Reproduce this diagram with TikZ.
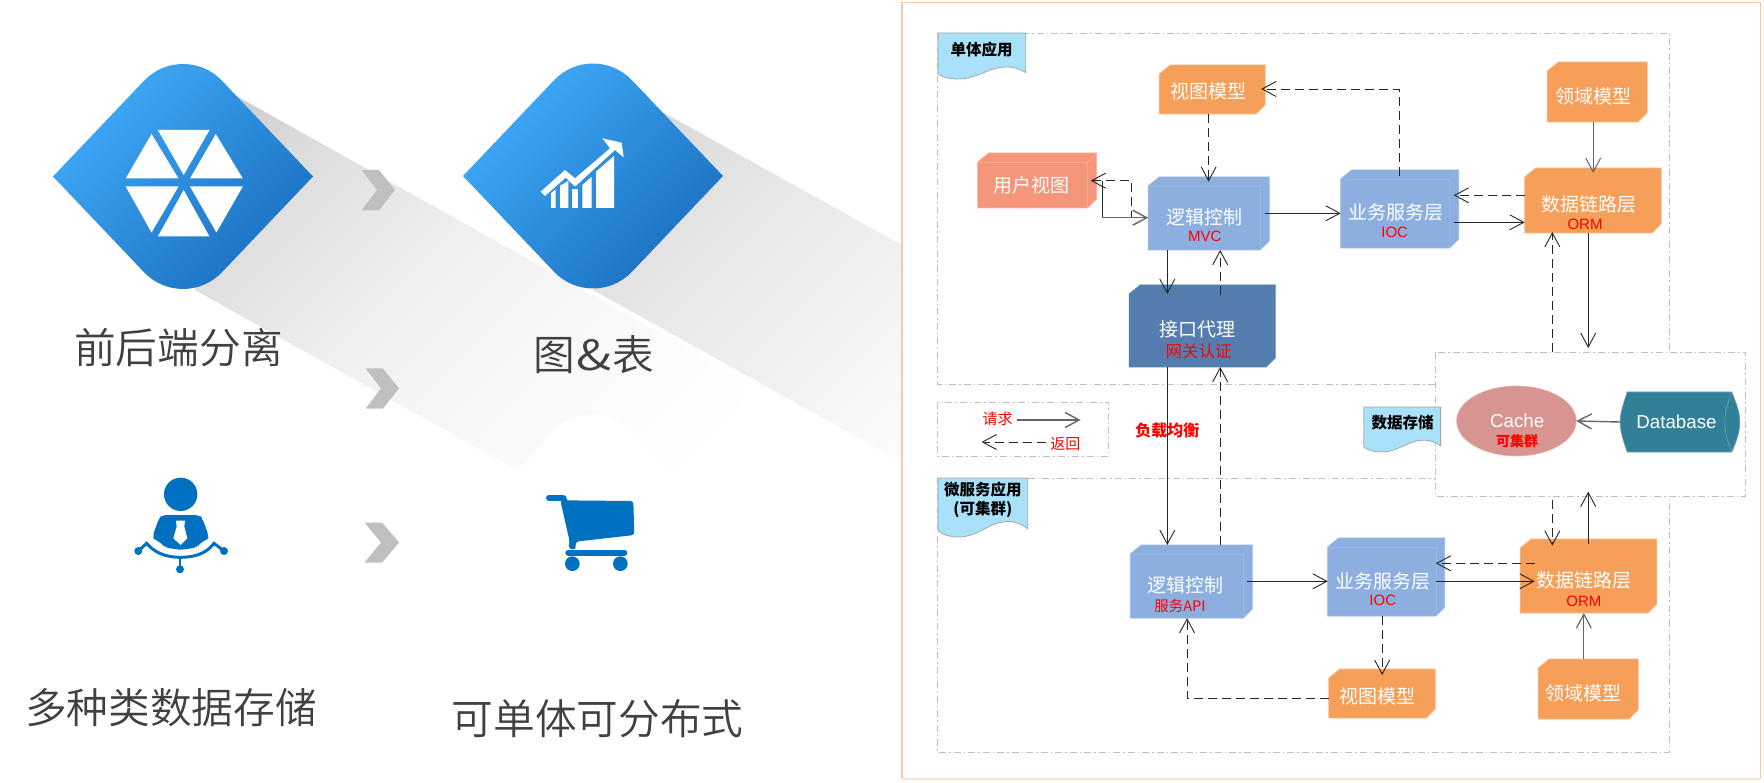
\documentclass[tikz,border=0pt]{standalone}
\usepackage{fontspec}
\usepackage{graphicx}
\setmainfont{Noto Sans CJK SC}
\newfontfamily\latinf{Liberation Sans}
\newfontfamily\lightcjk{Noto Sans CJK SC DemiLight}
\usetikzlibrary{shapes.geometric,arrows.meta,calc}
\definecolor{cOrange}{HTML}{F69F58}
\definecolor{cBlue}{HTML}{8CAFE0}
\definecolor{cBlueLn}{HTML}{98B8E4}
\definecolor{cDark}{HTML}{567DB0}
\definecolor{cTeal}{HTML}{3F8A99}
\definecolor{cSalmon}{HTML}{F59579}
\definecolor{cCache}{HTML}{D79491}
\definecolor{cDb}{HTML}{318097}
\definecolor{cDoc}{HTML}{A9E1FA}
\definecolor{cIcon}{HTML}{0070C0}
\definecolor{cDiaA}{HTML}{3FABFA}
\definecolor{cDiaB}{HTML}{1B6FBF}
\definecolor{cFrame}{HTML}{FFC89C}
\definecolor{cFrameB}{HTML}{FDE3D0}
\definecolor{gA}{gray}{.975}
\definecolor{gB}{gray}{.94}
\definecolor{gC}{gray}{.87}
\definecolor{gD}{gray}{.80}
\definecolor{gE}{gray}{.78}
\definecolor{gF}{gray}{.98}
\definecolor{gG}{gray}{.95}
\definecolor{gH}{gray}{.91}
\definecolor{gI}{gray}{.85}
\pgfdeclareverticalshading{shadowA}{100bp}{color(0bp)=(white); color(25bp)=(white); color(42bp)=(gA); color(57bp)=(gB); color(73bp)=(gC); color(83bp)=(gD); color(100bp)=(gE)}
\pgfdeclareverticalshading{shadowB}{100bp}{color(0bp)=(white); color(20bp)=(gF); color(34bp)=(gG); color(56bp)=(gH); color(78bp)=(gI); color(100bp)=(gI)}
\tikzset{
  x=1pt,y=-1pt,
  >={Straight Barb[length=14pt,width=15pt]},
  anchorbox/.style={rectangle,inner sep=0pt,outer sep=0pt},
  orangebox/.style={fill=cOrange,draw=cOrange!70!white,line width=.7pt},
  bluebox/.style={fill=cBlue,draw=cBlueLn,line width=.7pt},
  salmonbox/.style={fill=cSalmon,draw=cSalmon!70!white,line width=.7pt},
  darkbox/.style={fill=cDark,draw=cTeal,line width=.7pt},
  wtext/.style={text=white,font=\fontsize{19}{20}\selectfont,inner sep=0pt},
  rtext/.style={text=red,font=\latinf\fontsize{15}{16}\selectfont,inner sep=0pt},
  rcjk/.style={text=red,font=\fontsize{14.5}{16}\selectfont,inner sep=0pt},
  btext/.style={text=black,font=\bfseries\fontsize{15.5}{19}\selectfont,inner sep=0pt,align=center},
  bigtext/.style={text=black!75,font=\lightcjk\fontsize{41.7}{44}\selectfont,inner sep=0pt},
  solidl/.style={draw=black!85,line width=.9pt},
  dashl/.style={draw=black!85,line width=.9pt,dash pattern=on 9pt off 5pt},
  grayl/.style={draw=black!60,line width=1.4pt},
  groupbox/.style={draw=black!25,line width=.8pt,dash pattern=on 7pt off 3pt on 1.5pt off 3pt},
  docpath/.style={fill=cDoc,draw=black!35,line width=.8pt},
  chev/.style={fill=black!25}
}
\newcommand{\cube}[6]{%
  \node[anchorbox,minimum width=#5pt,minimum height=#6pt] (#2) at (#3,#4) {};
  \path[#1] ([xshift=11pt]#2.north west) -- (#2.north east) -- ([yshift=9pt]#2.south east) -- ([xshift=-9pt]#2.south east) -- (#2.south west) -- ([yshift=-9pt]#2.north west) -- cycle;}
\newcommand{\cubelines}[2]{%
  \draw[#2,line width=.5pt] ([yshift=-9pt]#1.north west) -- ([shift={(-9pt,-9pt)}]#1.north east) -- ([xshift=-9pt]#1.south east);
  \draw[#2,line width=.5pt] ([shift={(-9pt,-9pt)}]#1.north east) -- (#1.north east);}
\newcommand{\diamondpath}{(-130,0) -- (-39.1,-95.6) .. controls (-17.9,-118.1) and (17.9,-118.1) .. (39.1,-95.6) -- (130,0) -- (39.1,95.6) .. controls (17.9,118.1) and (-17.9,118.1) .. (-39.1,95.6) -- cycle}
\newcommand{\bluediamond}[2]{%
  \shade[top color=cDiaA,bottom color=cDiaB,shading angle=45,shift={(#1,#2)}] \diamondpath;}
\newcommand{\docshape}[4]{%
  \path[docpath,shift={(#1,#2)},xscale=#3,yscale=#4]
   (0,0) -- (1,0) -- (1,.86) .. controls (.88,.72) and (.76,.70) .. (.6,.80) .. controls (.45,.92) and (.35,1.0) .. (.23,1.0) .. controls (.14,1.0) and (.06,.97) .. (0,.89) -- cycle;}
\begin{document}
\begin{tikzpicture}
\useasboundingbox (0,0) rectangle (1764,783);
\fill[white] (0,0) rectangle (1764,783);
% long shadows
\shade[shading=shadowA,shading angle=45]
  (224,89) -- (744,380) -- (715,581) -- (195,290) -- cycle;
\shade[shading=shadowB,shading angle=45]
  (657,109) -- (902,245) -- (902,462) -- (593,290) -- cycle;
\fill[white,shift={(593,527)}] \diamondpath;
% chevrons
\fill[chev] (361.6,170) -- (379,170) -- (395,190) -- (379,210.5) -- (361.6,210.5) -- (377,190) -- cycle;
\fill[chev] (365.7,368.5) -- (383,368.5) -- (399,388.5) -- (383,408.5) -- (365.7,408.5) -- (381,388.5) -- cycle;
\fill[chev] (364.5,522.5) -- (382,522.5) -- (399,542.5) -- (382,562.5) -- (364.5,562.5) -- (381,542.5) -- cycle;
% diamonds
\bluediamond{183}{176.5}
\bluediamond{593}{176}
% hexagon icon
\begin{scope}[xscale=.574,yscale=.5]
\fill[white] (275,260) -- (365,260) -- (320,350) -- cycle;
\fill[white] (264,268) -- (219,357) -- (311,357) -- cycle;
\fill[white] (376,268) -- (423,357) -- (331,357) -- cycle;
\fill[white] (219,373) -- (311,373) -- (264,465) -- cycle;
\fill[white] (331,373) -- (423,373) -- (377,465) -- cycle;
\fill[white] (320,380) -- (365,473) -- (275,473) -- cycle;
\end{scope}
% chart icon
\begin{scope}[shift={(530,130)},scale=.33333]
\fill[white] (32,185) -- (105,120) -- (135,145) -- (240,55) -- (217,25) -- (275,38) -- (281,82) -- (255,60) -- (135,170) -- (107,143) -- (45,198) -- cycle;
\fill[white] (63,190) -- (77,178) -- (77,234) -- (63,234) -- cycle;
\fill[white] (90,167) -- (115,153) -- (115,234) -- (90,234) -- cycle;
\fill[white] (127,178) -- (145,178) -- (145,234) -- (127,234) -- cycle;
\fill[white] (157,165) -- (185,140) -- (185,234) -- (157,234) -- cycle;
\fill[white] (198,125) -- (252,78) -- (252,234) -- (198,234) -- cycle;
\end{scope}
% person icon
\begin{scope}[shift={(125,470)},scale=.33333]
\fill[cIcon] (167,73) circle [radius=50];
\fill[cIcon,rounded corners=4pt] (112,135) -- (222,135) -- (232,145) -- (252,200) -- (245,210) -- (222,220) -- (218,232) -- (167,240) -- (118,232) -- (112,220) -- (90,210) -- (82,200) -- (102,145) -- cycle;
\fill[white] (153,152) -- (180,152) -- (178,170) -- (187,205) -- (167,225) -- (145,205) -- (155,170) -- cycle;
\draw[cIcon,line width=3pt] (40,243) -- (65,220) .. controls (90,250) and (125,262) .. (167,262) .. controls (209,262) and (245,250) .. (267,220) -- (297,243);
\draw[cIcon,line width=2.6pt] (165,262) -- (165,298);
\fill[cIcon] (40,243) circle [radius=12];
\fill[cIcon] (297,243) circle [radius=12];
\fill[cIcon] (165,298) circle [radius=12];
\end{scope}
% cart icon
\begin{scope}[shift={(535,485)},scale=.33333]
\draw[cIcon,line width=6pt,line cap=round] (42,38) -- (82,38);
\fill[cIcon,rounded corners=3pt] (76,46) -- (295,48) -- (298,150) -- (122,170) -- (122,195) -- (100,190) -- (104,170) -- cycle;
\fill[cIcon] (72,32) -- (92,32) -- (98,50) -- (78,50) -- cycle;
\draw[cIcon,line width=6pt,line cap=round] (100,203) -- (268,203);
\fill[cIcon] (112,236) circle [radius=22];
\fill[cIcon] (256,236) circle [radius=22];
\end{scope}
% big labels
\node[bigtext] (t1) at (178.5,347.5) {前后端分离};
\node[bigtext] (t2) at (594,355) {图\hspace{1.5pt}\scalebox{1.25}[1]{\&}\hspace{1.5pt}表};
\node[bigtext] (t3) at (171,707.5) {多种类数据存储};
\node[bigtext] (t4) at (597.6,718.5) {可单体可分布式};
% right panel
\begin{scope}[shift={(2.34,0)},xscale=.9974]
% frame
\fill[white] (902,2.7) rectangle (1763,779);
\draw[draw=cFrame,line width=1.2pt] (902,779) -- (902,2.7) -- (1763,2.7) -- (1763,779);
\draw[draw=cFrameB,line width=2pt] (902,779) -- (1763,779);
% groups
\draw[groupbox] (937.6,33) rectangle (1671,384);
\draw[groupbox] (937.6,478) rectangle (1671,752);
\draw[groupbox] (937.6,402) rectangle (1109,456);
\draw[groupbox,fill=white] (1437,352) rectangle (1748,496);
\docshape{938}{33}{88}{46}
\docshape{938}{478}{90}{59}
\docshape{1365}{407}{77}{45}
% boxes
\cube{orangebox}{vm1}{1213}{89.5}{106}{49}
\cube{orangebox}{dm1}{1599}{92}{100}{60}
\cube{salmonbox}{uv}{1037.5}{180.5}{119}{55}
\cube{bluebox}{lc1}{1209.5}{213.5}{121}{73}
\cube{bluebox}{bs1}{1401}{209}{118}{78}
\cube{orangebox}{dl1}{1594.75}{200.5}{136.5}{65}
\cube{darkbox}{gw}{1203}{326}{146}{82}
\cube{bluebox}{lc2}{1192}{581.5}{122}{73}
\cube{bluebox}{bs2}{1387.5}{577}{117}{78}
\cube{orangebox}{dl2}{1590.3}{576}{136.6}{74}
\cube{orangebox}{vm2}{1383.25}{693.5}{106.5}{49}
\cube{orangebox}{dm2}{1590}{689}{100}{60}
\cubelines{uv}{cSalmon!70!orange!70!white}
\cubelines{lc1}{cBlueLn}
\cubelines{bs1}{cBlueLn}
\cubelines{gw}{cTeal}
\cubelines{lc2}{cBlueLn}
\cubelines{bs2}{cBlueLn}
% storage
\node[ellipse,fill=cCache,draw=cCache!70!white,line width=.6pt,minimum width=119.6pt,minimum height=70pt,inner sep=0pt,outer sep=0pt] (cache) at (1518,421) {};
\fill[cDb,draw=cBlueLn!60!cDb,line width=.6pt] (1629,392) -- (1734,392) .. controls (1739,405) and (1742,412) .. (1742,422) .. controls (1742,432) and (1739,440) .. (1734,452) -- (1629,452) .. controls (1625,440) and (1622,432) .. (1622,422) .. controls (1622,412) and (1625,405) .. (1629,392) -- cycle;
\draw[cBlueLn!60!cDb,line width=.6pt] (1734,392) .. controls (1729,405) and (1727,412) .. (1727,422) .. controls (1727,432) and (1729,440) .. (1734,452);
\node[anchorbox,minimum width=120pt,minimum height=60pt] (db) at (1682,422) {};
\node[anchorbox,minimum width=311pt,minimum height=144pt] (store) at (1592.5,424) {};
% legend free ends
\coordinate (la) at (1017.7,420);
\coordinate (lb) at (1081,420);
\coordinate (lc) at (1046,442);
\coordinate (ld) at (981.8,442);
% connectors
\draw[dashl,->] (vm1.south -| 1209.4,0) -- ([yshift=-4.7pt]lc1.north -| 1209.4,0);
\draw[dashl,->] ([yshift=-5.7pt]bs1.north -| 1401,0) -- (1401,89) -- ([xshift=-4pt]vm1.east |- 0,89);
\draw[grayl,line width=1pt,->] (dm1.south -| 1595,0) -- ([yshift=-5pt]dl1.north -| 1595,0);
\draw[dashl,->] (lc1.west |- 0,217) -- (1132,217) -- (1132,180.7) -- ([xshift=-6pt]uv.east |- 0,180.7);
\draw[solidl] (1103,180.7) -- (1103,217.7);
\draw[grayl,->] (1103,217.7) -- (lc1.west |- 0,217.7);
\draw[solidl,->] ([xshift=-4pt]lc1.east |- 0,213.3) -- (bs1.west |- 0,213.3);
\draw[solidl,->] ([xshift=-5pt]bs1.east |- 0,222.3) -- (dl1.west |- 0,222.3);
\draw[dashl,->] (dl1.west |- 0,195.3) -- ([xshift=-5pt]bs1.east |- 0,195.3);
\draw[solidl,->] (lc1.south -| 1168,0) -- ([yshift=-9pt]gw.north -| 1168,0);
\draw[dashl,->] ([yshift=-10pt]gw.north -| 1221,0) -- (lc1.south -| 1221,0);
\draw[solidl,->] (dl1.south -| 1590,0) -- ([yshift=4pt]store.north -| 1590,0);
\draw[dashl,->] (store.north -| 1554,0) -- ([yshift=1pt]dl1.south -| 1554,0);
\draw[solidl,->] (gw.south -| 1168,0) -- (lc2.north -| 1168,0);
\draw[dashl,->] (lc2.north -| 1221,0) -- (gw.south -| 1221,0);
\draw[grayl,->] (db.west) -- (cache.east);
\draw[dashl,->] ([yshift=-4pt]store.south -| 1554,0) -- ([yshift=-6.7pt]dl2.north -| 1554,0);
\draw[solidl,->] ([yshift=-5.3pt]dl2.north -| 1590,0) -- ([yshift=4.3pt]store.south -| 1590,0);
\draw[solidl,->] ([xshift=-5pt]lc2.east |- 0,581.3) -- (bs2.west |- 0,581.3);
\draw[solidl,->] ([xshift=-9pt]bs2.east |- 0,581.3) -- ([xshift=14.5pt]dl2.west |- 0,581.3);
\draw[dashl,->] ([xshift=14.5pt]dl2.west |- 0,563.3) -- ([xshift=-9pt]bs2.east |- 0,563.3);
\draw[dashl,->] (bs2.south -| 1383.4,0) -- ([yshift=-6pt]vm2.north -| 1383.4,0);
\draw[dashl,->] (vm2.west |- 0,698) -- (1187.8,698) -- (lc2.south -| 1187.8,0);
\draw[grayl,line width=1.2pt,->] (dm2.north -| 1585.6,0) -- (dl2.south -| 1585.6,0);
\draw[grayl,->] (la) -- (lb);
\draw[dashl,->] (lc) -- (ld);
% texts
\node[wtext] (x1) at (1209,91) {视图模型};
\node[wtext] (x2) at (1594.8,96) {领域模型};
\node[wtext] (x3) at (1031.8,185) {用户视图};
\node[wtext] (x4) at (1205,217) {逻辑控制};
\node[rtext] (x5) at (1205.5,236.7) {MVC};
\node[wtext] (x6) at (1397,212.7) {业务服务层};
\node[rtext] (x7) at (1396,232.7) {IOC};
\node[wtext] (x8) at (1590.6,204) {数据链路层};
\node[rtext] (x9) at (1586.8,224) {ORM};
\node[wtext] (x10) at (1198,329) {接口代理};
\node[rcjk,font=\fontsize{16.5}{18}\selectfont] (x11) at (1199.5,351) {网关认证};
\node[rcjk,font=\fontsize{15}{18}\selectfont] (x12) at (997.8,419) {请求};
\node[rcjk,font=\fontsize{15}{18}\selectfont] (x13) at (1065.7,444) {返回};
\node[rcjk,font=\bfseries\fontsize{16}{18}\selectfont] (x14) at (1168,430) {负载均衡};
\node[btext] (x15) at (1404,423) {数据存储};
\node[text=white,inner sep=0pt,font=\latinf\fontsize{18.7}{20}\selectfont] (x16) at (1518.8,420.7) {Cache};
\node[rcjk,font=\bfseries\fontsize{14}{16}\selectfont] (x17) at (1518.8,440.7) {可集群};
\node[text=white,inner sep=0pt,font=\latinf\fontsize{18.7}{20}\selectfont] (x18) at (1678.5,421.7) {Database};
\node[btext] (x19) at (983,499.5) {微服务应用\\(可集群)};
\node[btext] (x20) at (981.8,50) {单体应用};
\node[wtext] (x21) at (1186.7,585) {逻辑控制};
\node[rcjk] (x22) at (1180.7,605.7) {服务API};
\node[wtext] (x23) at (1384,581) {业务服务层};
\node[rtext] (x24) at (1384,600.7) {IOC};
\node[wtext] (x25) at (1586,580.7) {数据链路层};
\node[rtext] (x26) at (1585.6,601) {ORM};
\node[wtext] (x27) at (1378.5,696) {视图模型};
\node[wtext] (x28) at (1585.6,693) {领域模型};
\end{scope}
\end{tikzpicture}
\end{document}
